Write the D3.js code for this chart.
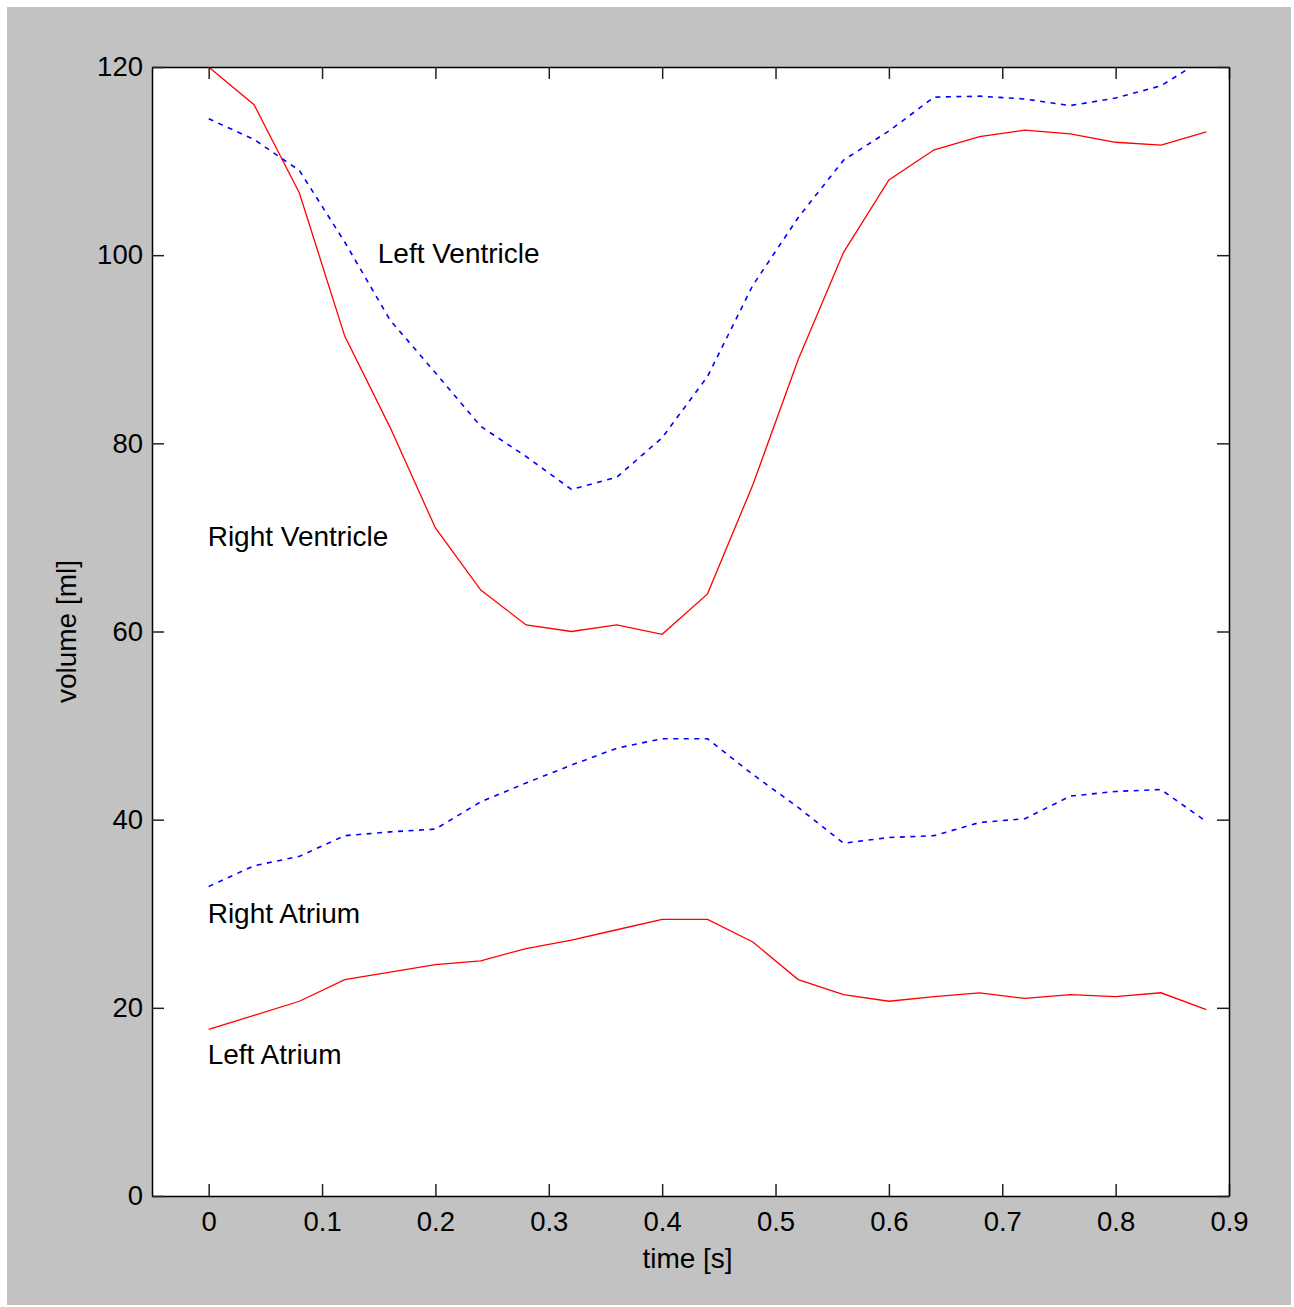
<!DOCTYPE html>
<html>
<head>
<meta charset="utf-8">
<script src="https://cdn.jsdelivr.net/npm/d3@7"></script>
<style>
  body { margin: 0; background: #fff; }
  text { font-family: "Liberation Sans", Arial, sans-serif; fill: #000; }
</style>
</head>
<body>
<div id="chart"></div>
<script>
// chart data (time in s, volumes in ml)
const time = [0, 0.04, 0.08, 0.12, 0.16, 0.20, 0.24, 0.28, 0.32, 0.36, 0.40, 0.44,
              0.48, 0.52, 0.56, 0.60, 0.64, 0.68, 0.72, 0.76, 0.80, 0.84, 0.88];
const rightVentricle = [120, 116.0, 106.6, 91.4, 81.7, 71.0, 64.4, 60.7, 60.0, 60.7, 59.7, 64.0,
                        75.6, 88.9, 100.3, 108.0, 111.2, 112.6, 113.3, 112.9, 112.0, 111.7, 113.1];
const leftVentricle = [114.5, 112.3, 109.0, 101.4, 93.1, 87.5, 81.8, 78.6, 75.1, 76.4, 80.6, 87.1,
                       96.8, 104.0, 110.1, 113.2, 116.8, 116.9, 116.6, 115.9, 116.7, 118.0, 121.0];
const rightAtrium = [32.9, 35.1, 36.1, 38.3, 38.7, 39.0, 41.9, 43.9, 45.8, 47.6, 48.6, 48.6,
                     44.8, 41.3, 37.5, 38.1, 38.3, 39.7, 40.1, 42.5, 43.0, 43.2, 39.8];
const leftAtrium = [17.7, 19.2, 20.7, 23.0, 23.8, 24.6, 25.0, 26.3, 27.2, 28.3, 29.4, 29.4,
                    27.0, 23.0, 21.4, 20.7, 21.2, 21.6, 21.0, 21.4, 21.2, 21.6, 19.8];

const xTicks = [0, 0.1, 0.2, 0.3, 0.4, 0.5, 0.6, 0.7, 0.8, 0.9];
const yTicks = [0, 20, 40, 60, 80, 100, 120];

const series = [
  {values: rightVentricle, color: "#ff0000", dash: null},
  {values: leftVentricle, color: "#0000ff", dash: "5,5.5"},
  {values: rightAtrium, color: "#0000ff", dash: "5,5.5"},
  {values: leftAtrium, color: "#ff0000", dash: null}
];

const labels = [
  {text: "Left Ventricle", t: 0.15, v: 99.2},
  {text: "Right Ventricle", t: 0, v: 69.1},
  {text: "Right Atrium", t: 0, v: 29.0},
  {text: "Left Atrium", t: 0, v: 14.0}
];

const width = 1294, height = 1307;
const plot = {left: 152, right: 1229, top: 67, bottom: 1196};

let svg = d3.select("#chart")
  .append("svg")
  .attr("width", width)
  .attr("height", height);

let defs = svg.append("defs");

// faint dotted texture of the figure background
let pat = defs.append("pattern")
  .attr("id", "dots")
  .attr("width", 14)
  .attr("height", 16)
  .attr("patternUnits", "userSpaceOnUse");
pat.append("rect").attr("width", 14).attr("height", 16).attr("fill", "#c2c2c2");
pat.append("rect").attr("x", 3).attr("y", 5).attr("width", 1).attr("height", 1).attr("fill", "#d2d2d2");

defs.append("clipPath")
  .attr("id", "plotClip")
  .append("rect")
  .attr("x", plot.left)
  .attr("y", plot.top)
  .attr("width", plot.right - plot.left)
  .attr("height", plot.bottom - plot.top);

svg.append("rect")
  .attr("x", 7).attr("y", 7)
  .attr("width", 1284).attr("height", 1298)
  .attr("fill", "url(#dots)");

svg.append("rect")
  .attr("x", plot.left).attr("y", plot.top)
  .attr("width", plot.right - plot.left)
  .attr("height", plot.bottom - plot.top)
  .attr("fill", "#fff");

let x = d3.scaleLinear().domain([-0.05, 0.9]).range([plot.left, plot.right]);
let y = d3.scaleLinear().domain([0, 120]).range([plot.bottom, plot.top]);

let line = d3.line()
  .x(function(d, i) {return x(time[i])})
  .y(function(d) {return y(d)});

let lines = svg.append("g").attr("clip-path", "url(#plotClip)");
series.forEach(function(s) {
  lines.append("path")
    .datum(s.values)
    .attr("d", line)
    .attr("fill", "none")
    .attr("stroke", s.color)
    .attr("stroke-width", s.dash ? 1.6 : 1.3)
    .attr("stroke-dasharray", s.dash);
});

// axes, ticks pointing inward on all four sides
function styleAxis(g) {
  g.selectAll("path.domain").attr("stroke", "#000").attr("stroke-width", 1.5);
  g.selectAll(".tick line").attr("stroke", "#222").attr("stroke-width", 1.5);
  g.selectAll(".tick text")
    .style("font-family", "'Liberation Sans', Arial, sans-serif")
    .style("font-size", "27.5px")
    .attr("fill", "#000");
}

svg.append("g")
  .attr("transform", "translate(0," + plot.bottom + ")")
  .call(d3.axisBottom(x).tickValues(xTicks).tickSizeInner(-12).tickSizeOuter(0).tickPadding(15)
    .tickFormat(d3.format("")))
  .call(styleAxis);

svg.append("g")
  .attr("transform", "translate(0," + plot.top + ")")
  .call(d3.axisTop(x).tickValues(xTicks).tickSizeInner(-12).tickSizeOuter(0).tickFormat(""))
  .call(styleAxis);

svg.append("g")
  .attr("transform", "translate(" + plot.left + ",0)")
  .call(d3.axisLeft(y).tickValues(yTicks).tickSizeInner(-12).tickSizeOuter(0).tickPadding(9))
  .call(styleAxis);

svg.append("g")
  .attr("transform", "translate(" + plot.right + ",0)")
  .call(d3.axisRight(y).tickValues(yTicks).tickSizeInner(-12).tickSizeOuter(0).tickFormat(""))
  .call(styleAxis);

// curve labels
svg.selectAll("text.curveLabel")
  .data(labels)
  .enter()
  .append("text")
  .attr("class", "curveLabel")
  .attr("x", function(d) {return x(d.t) - 1})
  .attr("y", function(d) {return y(d.v)})
  .style("font-size", "28px")
  .text(function(d) {return d.text});

// axis titles
svg.append("text")
  .attr("x", (plot.left + plot.right) / 2 - 3)
  .attr("y", 1268)
  .style("text-anchor", "middle")
  .style("font-size", "28px")
  .text("time [s]");

svg.append("text")
  .attr("transform", "translate(76," + ((plot.top + plot.bottom) / 2) + ")rotate(-90)")
  .style("text-anchor", "middle")
  .style("font-size", "28px")
  .text("volume [ml]");
</script>
</body>
</html>
